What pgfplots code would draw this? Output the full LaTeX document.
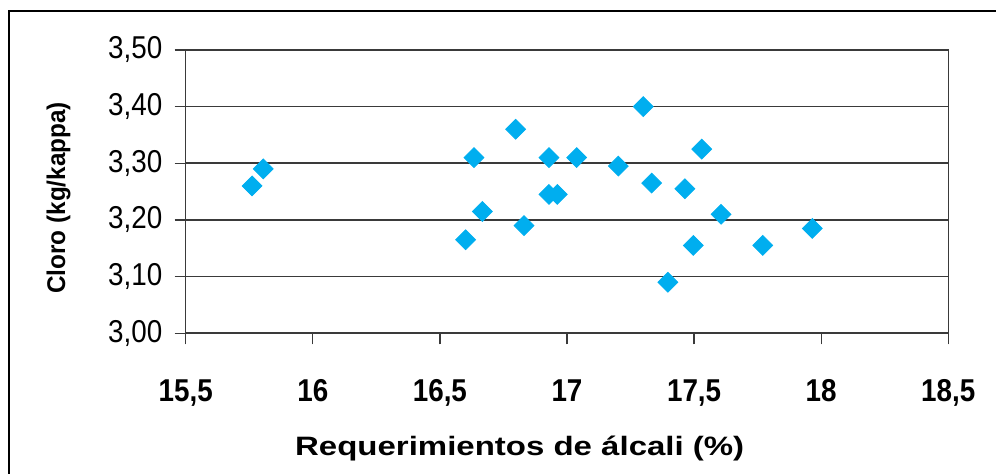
\documentclass[border=0pt]{standalone}
\usepackage{fontspec}
\usepackage{pgfplots}
\pgfplotsset{compat=1.18}
\setmainfont{Liberation Sans}
\newfontfamily\narrowfont[FakeStretch=0.88]{Liberation Sans}
\newfontfamily\ylabfont[FakeStretch=0.95]{Liberation Sans}
\newfontfamily\xlabfont[FakeStretch=1.24]{Liberation Sans}
\definecolor{markblue}{HTML}{00AEEF}
\definecolor{gridgray}{HTML}{3A3A3A}

\pgfplotstableread{
x      y
15.761 3.260
15.805 3.290
16.601 3.165
16.634 3.310
16.667 3.215
16.798 3.360
16.831 3.190
16.929 3.310
16.929 3.245
16.962 3.245
17.038 3.310
17.202 3.295
17.300 3.400
17.333 3.265
17.397 3.090
17.464 3.255
17.497 3.155
17.530 3.325
17.606 3.210
17.770 3.155
17.965 3.185
}\datatable

\begin{document}
\begin{tikzpicture}
\begin{axis}[
    at={(0,0)}, anchor=south west,
    scale only axis,
    width=381.3pt, height=141.7pt,
    xmin=15.5, xmax=18.5, ymin=3, ymax=3.5,
    xtick={15.5,16,...,18.5},
    ytick={3,3.1,...,3.5},
    xtick pos=bottom, ytick pos=left,
    tick align=outside,
    major tick length=5.5pt,
    tick style={gridgray, line width=0.7pt},
    axis line style={gridgray, line width=0.7pt},
    ymajorgrids,
    major grid style={gridgray, line width=0.8pt},
    /pgf/number format/assume math mode=true,
    /pgf/number format/use comma,
    xticklabel style={/pgf/number format/fixed, /pgf/number format/precision=1,
        font=\narrowfont\bfseries\fontsize{15.8}{18}\selectfont,
        anchor=north, inner sep=0pt, yshift=-17.5pt},
    yticklabel style={/pgf/number format/fixed, /pgf/number format/fixed zerofill,
        /pgf/number format/precision=2,
        font=\narrowfont\fontsize{15.8}{18}\selectfont,
        anchor=east, inner sep=0pt, xshift=-6pt},
    xlabel={Requerimientos de álcali (\%)},
    xlabel style={at={(axis description cs:0.438,-0.43)}, anchor=base, inner sep=0pt,
        font=\xlabfont\bfseries\fontsize{13.3}{16}\selectfont},
    ylabel={Cloro (kg/kappa)},
    ylabel style={at={(axis description cs:-0.158,0.478)}, anchor=base, inner sep=0pt,
        font=\ylabfont\bfseries\fontsize{12.8}{15}\selectfont},
]
\addplot[only marks, mark=square*, mark size=3.5pt,
    mark options={rotate=45, fill=markblue, draw=markblue}]
    table[x=x, y=y] {\datatable};
\end{axis}
\draw[line width=1.4pt] (-88.35pt,-75pt) -- (-88.35pt,161.15pt) -- (410pt,161.15pt);
\pgfresetboundingbox
\path[use as bounding box] (-92.85pt,-70.35pt) rectangle (405.15pt,166.65pt);
\end{tikzpicture}
\end{document}
